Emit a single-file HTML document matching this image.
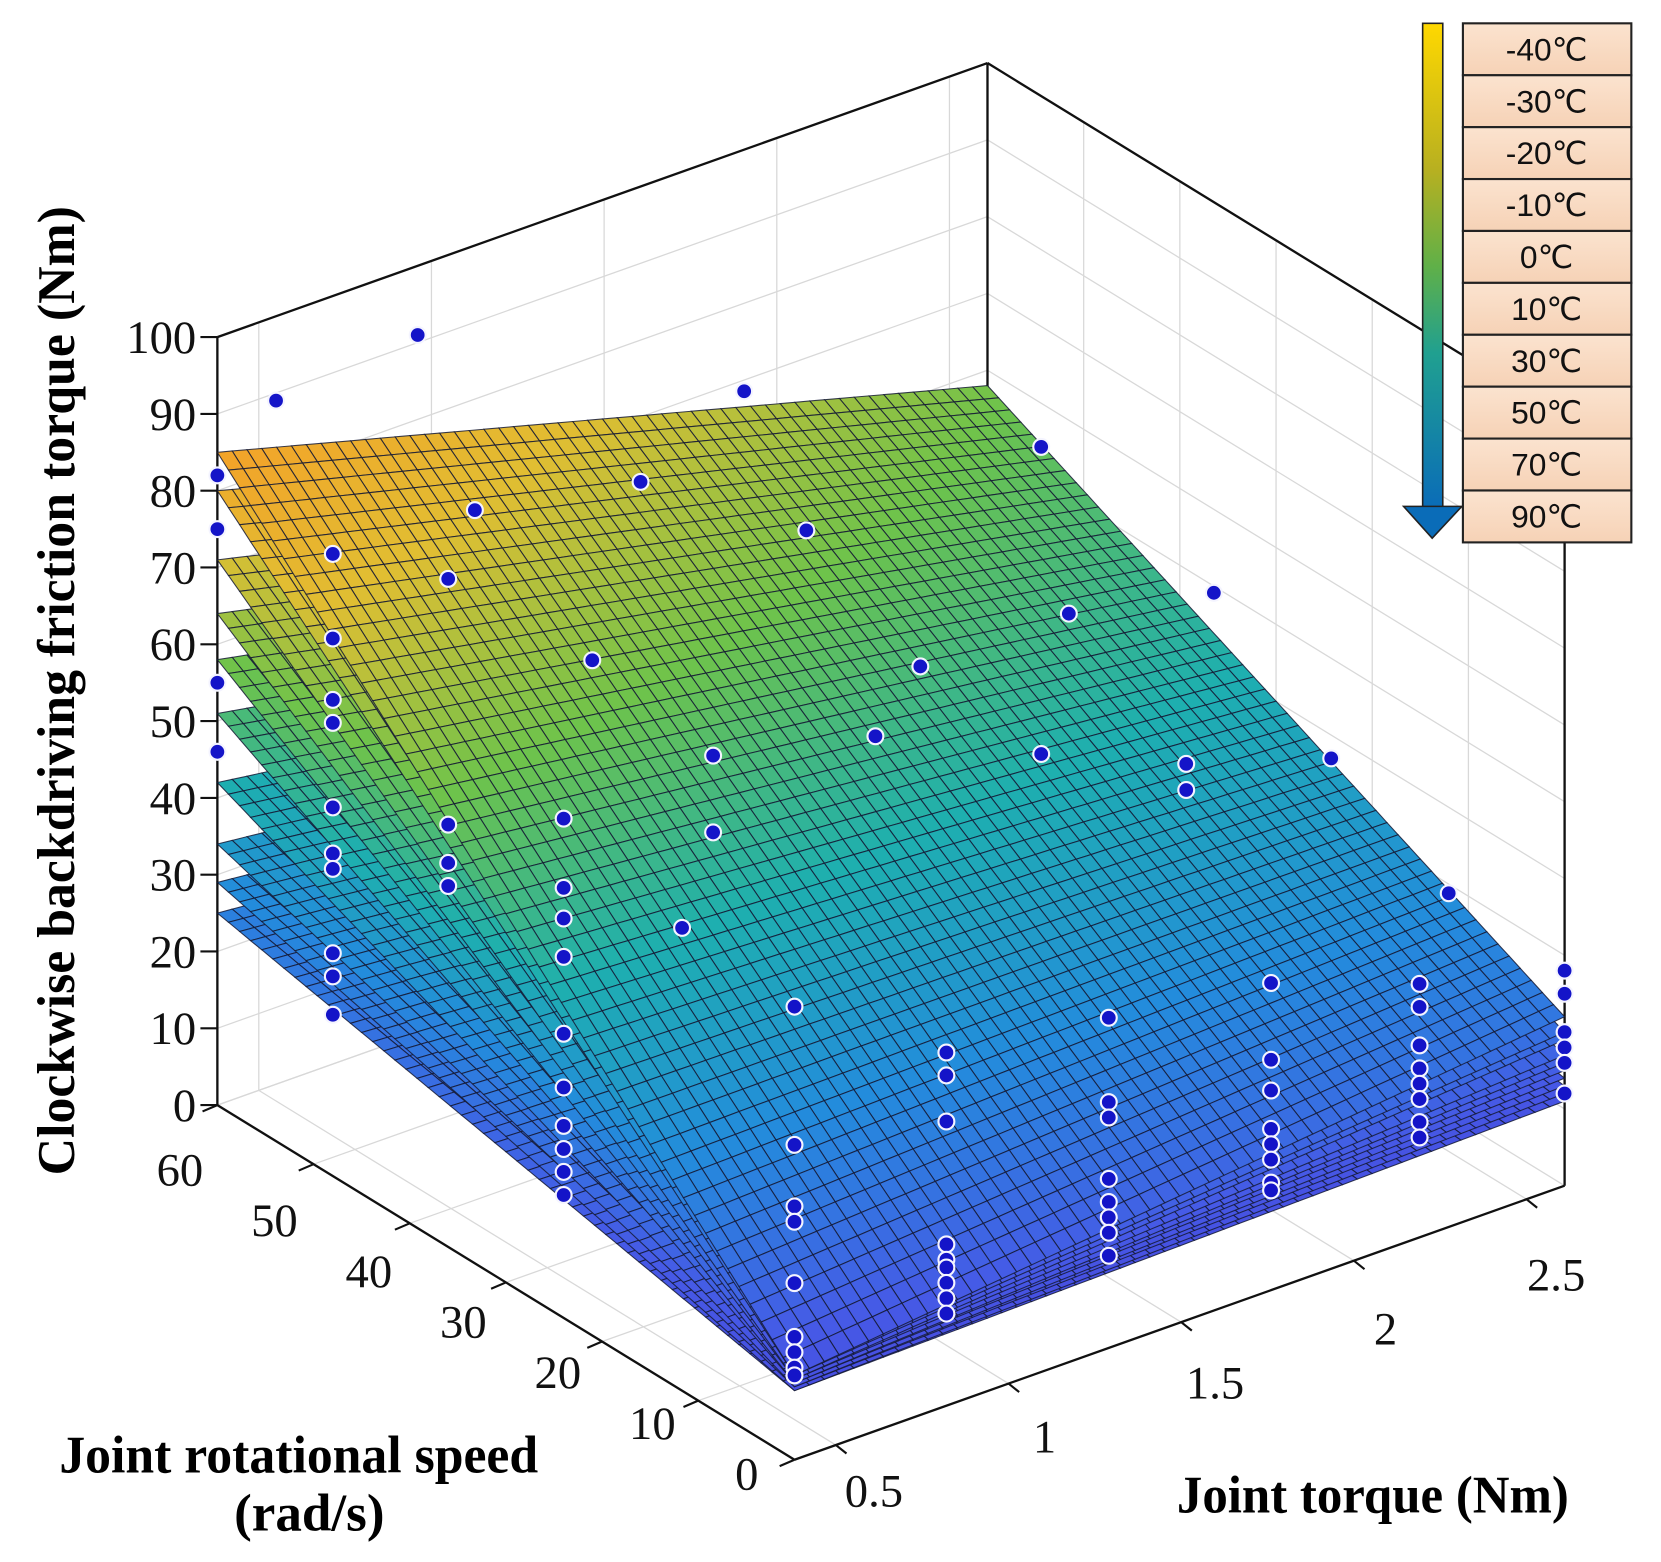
<!DOCTYPE html>
<html><head><meta charset="utf-8"><style>
html,body{margin:0;padding:0;background:#fff;}
svg{display:block;}
</style></head><body>
<svg id="chart" xmlns="http://www.w3.org/2000/svg" width="1661" height="1562" viewBox="0 0 1568 1474.5">
<defs>
<linearGradient id="arrowGrad" x1="0" y1="0" x2="0" y2="1">
<stop offset="0" stop-color="#ffd800"/><stop offset="0.3" stop-color="#b8b020"/><stop offset="0.5" stop-color="#60b048"/><stop offset="0.68" stop-color="#20a090"/><stop offset="1" stop-color="#0a6cb8"/>
</linearGradient>
<linearGradient id="boxGrad" x1="0" y1="0" x2="0" y2="1">
<stop offset="0" stop-color="#fbe3cf"/><stop offset="1" stop-color="#f6d2b6"/>
</linearGradient>
</defs>
<g id="walls"></g>
<g id="surfaces"></g>
<g id="dots"></g>
<g id="labels" font-family="Liberation Serif, serif" fill="#111"></g>
<text transform="translate(70,652) rotate(-90)" text-anchor="middle" font-family="Liberation Serif, serif" font-weight="bold" font-size="50" textLength="915" lengthAdjust="spacingAndGlyphs">Clockwise backdriving friction torque (Nm)</text>
<text x="282" y="1390" text-anchor="middle" font-family="Liberation Serif, serif" font-weight="bold" font-size="50" textLength="452" lengthAdjust="spacingAndGlyphs">Joint rotational speed</text>
<text x="292" y="1445" text-anchor="middle" font-family="Liberation Serif, serif" font-weight="bold" font-size="50" textLength="142" lengthAdjust="spacingAndGlyphs">(rad/s)</text>
<text x="1296" y="1428" text-anchor="middle" font-family="Liberation Serif, serif" font-weight="bold" font-size="50" textLength="370" lengthAdjust="spacingAndGlyphs">Joint torque (Nm)</text>
<g id="legend"></g>
</svg>
<script>
// ---- data ----
const temps = ['-40℃','-30℃','-20℃','-10℃','0℃','10℃','30℃','50℃','70℃','90℃'];
// surface corner values (Nm) per temperature
const zLowTLowS  = [11,11,10.5,10.5,10,10,9.5,9.5,9,9];     // torque min, speed 0
const zHighTLowS = [22,20,19,17,16,15,14,13,12,11];        // torque max, speed 0
const zLowTHighS = [85,80,71,64,58,51,42,34,29,25];        // torque min, speed 60
const zHighTHighS= [58,53,47,42,38,33,28,23,19,16];        // torque max, speed 60
const zTicks = [0,10,20,30,40,50,60,70,80,90,100];
const speedTicks = [0,10,20,30,40,50,60];
const torqueTicks = [0.5,1,1.5,2,2.5];
const torqueTickLabels = ['0.5','1','1.5','2','2.5'];
// measured points
const dotT = [0.38,0.38,0.38,0.38,0.38,0.38,0.38,0.38,0.38,0.38,
  0.38,0.38,0.38,0.38,0.38,0.38,0.38,0.38,0.38,0.38,
  0.38,0.38,0.38,0.38, 0.38,0.38,0.38,0.38,
  0.38,0.38,0.38,0.38,0.38,0.38,0.38,0.38,0.38,
  0.82,0.82,0.82,0.82,0.82,0.82,0.82,0.82,0.82,
  1.29,1.29,1.29,1.29,1.29,1.29,1.29,1.29,
  1.76,1.76,1.76,1.76,1.76,1.76,1.76,1.76,
  2.19,2.19,2.19,2.19,2.19,2.19,2.19,2.19,
  2.61,2.61,2.61,2.61,2.61,2.61,
  0.96,0.55,2.35,2.35,2.77,3.11,2.43,2.01,1.93,1.93,1.58,1.45,1.25,0.98,0.98,0.89,1.07,0.63,0.77,0.29];
const dotS = [24,24,24,24,24,24,24,24,24,24,
  48,48,48,48,48,48,48,48,48,48,
  60,60,60,60, 36,36,36,36,
  0,0,0,0,0,0,0,0,0,
  0,0,0,0,0,0,0,0,0,
  0,0,0,0,0,0,0,0,
  0,0,0,0,0,0,0,0,
  0,0,0,0,0,0,0,0,
  0,0,0,0,0,0,
  60,60,30,30,30,30,30,30,30,30,30,30,30,30,30,30,30,30,30,30];
const dotZ = [65,56,52,47,37,30,25,22,19,16,
  81,70,62,59,48,42,40,29,26,21,
  82,75,55,46, 87,55,50,47,
  59,41,33,31,23,16,14,12,11,
  46,43,37,21,19,18,16,14,12,
  43,32,30,22,19,17,15,12,
  40,30,26,21,19,17,14,13,
  33,30,25,22,20,18,15,13,
  28,25,20,18,16,12,
  91,89,36,32.6,30,7,57,61,84,44,61,54,84,59,49,38,105,77,98,102];

// ---- projection ----
const TMIN=0.38, TMAX=2.61, SMAX=60;
function P(t,s,z){return [750+326*(t-TMIN)-9.08*s, 1378-116*(t-TMIN)-5.58*s-7.25*z];}
const NS='http://www.w3.org/2000/svg';
function mk(tag,attrs,parent){const e=document.createElementNS(NS,tag);for(const k in attrs)e.setAttribute(k,attrs[k]);parent.appendChild(e);return e;}
function line(g,a,b,stroke,w){return mk('line',{x1:a[0].toFixed(1),y1:a[1].toFixed(1),x2:b[0].toFixed(1),y2:b[1].toFixed(1),stroke:stroke,'stroke-width':w},g);}

// walls & grid
const walls=document.getElementById('walls');
const gc='#d8d8d8';
zTicks.forEach(z=>{ line(walls,P(TMIN,SMAX,z),P(TMAX,SMAX,z),gc,1.2); line(walls,P(TMAX,SMAX,z),P(TMAX,0,z),gc,1.2); });
torqueTicks.forEach(t=>{ line(walls,P(t,SMAX,0),P(t,SMAX,100),gc,1.2); line(walls,P(t,0,0),P(t,SMAX,0),gc,1.2); });
speedTicks.forEach(s=>{ line(walls,P(TMAX,s,0),P(TMAX,s,100),gc,1.2); line(walls,P(TMIN,s,0),P(TMAX,s,0),gc,1.2); });
const bk='#111';
line(walls,P(TMIN,SMAX,0),P(TMIN,SMAX,100),bk,2.2);
line(walls,P(TMIN,SMAX,100),P(TMAX,SMAX,100),bk,2.2);
line(walls,P(TMAX,SMAX,0),P(TMAX,SMAX,100),bk,2.2);
line(walls,P(TMAX,SMAX,100),P(TMAX,0,100),bk,2.2);
line(walls,P(TMAX,0,0),P(TMAX,0,100),bk,2.2);
line(walls,P(TMIN,SMAX,0),P(TMIN,0,0),bk,2.2);
line(walls,P(TMIN,0,0),P(TMAX,0,0),bk,2.2);

// labels & ticks
const lab=document.getElementById('labels');
zTicks.forEach(z=>{
  const p=P(TMIN,SMAX,z);
  const tk=line(lab,[p[0]-16,p[1]],p,bk,2);
  
  
  const t=mk('text',{x:p[0]-20,y:p[1]+15,'text-anchor':'end','font-size':44},lab);
  t.textContent=z;
  
  
});
speedTicks.forEach(s=>{
  const p=P(TMIN,s,0);
  const tk=line(lab,p,[p[0]-14,p[1]+6],bk,2);
  
  
  const t=mk('text',{x:705-8.92*s,y:1406-4.78*s,'text-anchor':'middle','font-size':44},lab);
  t.textContent=s;
  
  
});
torqueTicks.forEach((tv,i)=>{
  const p=P(tv,0,0);
  const tk=line(lab,p,[p[0]+10,p[1]+8],bk,2);
  
  
  const t=mk('text',{x:825+322*(tv-0.5),y:1422-102*(tv-0.5),'text-anchor':'middle','font-size':44},lab);
  t.textContent=torqueTickLabels[i];
  
  
});

// colormap
const stops=[[0,[72,58,215]],[14,[70,90,230]],[28,[35,140,220]],[42,[30,175,175]],[57,[110,195,75]],[72,[225,190,50]],[86,[245,160,40]]];
function cmap(z){
  if(z<=stops[0][0])return stops[0][1];
  for(let i=1;i<stops.length;i++){if(z<=stops[i][0]){const a=stops[i-1],b=stops[i],f=(z-a[0])/(b[0]-a[0]);return a[1].map((v,k)=>Math.round(v+(b[1][k]-v)*f));}}
  return stops[stops.length-1][1];
}
// surfaces (lowest first)
const surf=document.getElementById('surfaces');
const N=52;
for(let k=temps.length-1;k>=0;k--){
  const g=mk('g',{},surf);
  
  
  const Z=(u,v)=>zLowTLowS[k]*(1-u)*(1-v)+zHighTLowS[k]*u*(1-v)+zLowTHighS[k]*(1-u)*v+zHighTHighS[k]*u*v;
  for(let j=N-1;j>=0;j--){
    for(let i=N-1;i>=0;i--){
      const u0=i/N,u1=(i+1)/N,v0=j/N,v1=(j+1)/N;
      const pts=[[u0,v0],[u1,v0],[u1,v1],[u0,v1]].map(([u,v])=>P(TMIN+u*(TMAX-TMIN),v*SMAX,Z(u,v)));
      const c=cmap(Z((u0+u1)/2,(v0+v1)/2));
      mk('polygon',{points:pts.map(p=>p[0].toFixed(1)+','+p[1].toFixed(1)).join(' '),fill:'rgb('+c.join(',')+')',stroke:'#151a35','stroke-width':'1','stroke-opacity':'0.85'},g);
    }
  }
}
// dots
const dg=document.getElementById('dots');
for(let i=0;i<dotT.length;i++){
  const p=P(dotT[i],dotS[i],dotZ[i]);
  const c=mk('circle',{cx:p[0].toFixed(1),cy:p[1].toFixed(1),r:7.5,fill:'#1414c8',stroke:'#f4f4ff','stroke-width':2},dg);
  
  
}
// legend
const lg=document.getElementById('legend');
const sh=mk('rect',{x:1343,y:22,width:19,height:458,fill:'url(#arrowGrad)',stroke:'#222','stroke-width':1.5},lg);


const hd=mk('polygon',{points:'1325,478 1380,478 1352,508',fill:'#0a6cb8',stroke:'#222','stroke-width':1.5},lg);


temps.forEach((t,i)=>{
  const y=22+i*49;
  const r=mk('rect',{x:1381,y:y,width:159,height:49,fill:'url(#boxGrad)',stroke:'#222','stroke-width':2},lg);
  
  
  const tx=mk('text',{x:1460,y:y+35,'text-anchor':'middle','font-size':30,'font-family':'Liberation Sans, DejaVu Sans, sans-serif',fill:'#111'},lg);
  tx.textContent=t;
  
  
});
</script>
</body></html>
